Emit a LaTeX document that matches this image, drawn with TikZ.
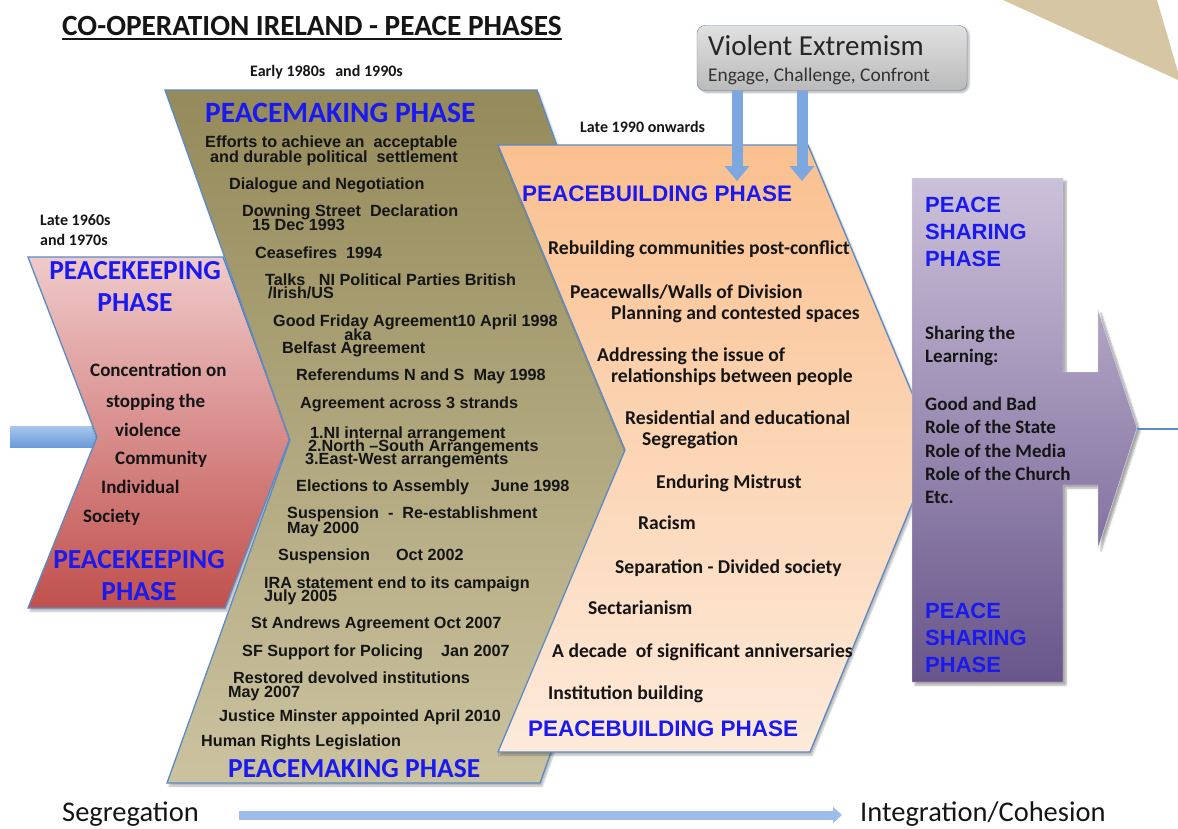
\documentclass[tikz,border=0pt]{standalone}
\usepackage{fontspec}
\setmainfont{Carlito}
\newfontfamily\arialfont{Liberation Sans}
\usepackage{tikz}
\usetikzlibrary{positioning,arrows.meta,shadows.blur}
\definecolor{phaseblue}{HTML}{1A1AF0}
\definecolor{edgeblue}{HTML}{5B8BC6}
\definecolor{inkdark}{HTML}{151515}
\definecolor{kptop}{HTML}{EFCACA}
\definecolor{kpbot}{HTML}{C0504D}
\definecolor{pmtop}{HTML}{948A5A}
\definecolor{pmbot}{HTML}{CBC3A0}
\definecolor{pbtop}{HTML}{FAC08F}
\definecolor{pbbot}{HTML}{FDEADA}
\definecolor{pstop}{HTML}{CCC1DA}
\definecolor{psbot}{HTML}{68558A}
\definecolor{flowlight}{HTML}{A9C6EE}
\definecolor{flowdark}{HTML}{6A9BD8}
\definecolor{sand}{HTML}{D6C6A3}

\begin{document}
\begin{tikzpicture}[
      x=1pt,y=-1pt,
      phase/.style={draw=edgeblue,line width=1.3pt,blur shadow={shadow blur steps=6,shadow xshift=2pt,shadow yshift=-3pt,shadow opacity=30}},
      title/.style={font=\bfseries\fontsize{29.3}{29.3}\selectfont,text=inkdark,anchor=west,inner sep=0pt,text height=18.9pt,text depth=0pt},
      datelbl/.style={font=\bfseries\fontsize{16}{16}\selectfont,text=inkdark,anchor=west,inner sep=0pt,text height=10.3pt,text depth=0pt},
      kphead/.style={font=\bfseries\fontsize{27.5}{27.5}\selectfont,text=phaseblue,inner sep=0pt,text height=17.7pt,text depth=0pt},
      kpline/.style={font=\bfseries\fontsize{19}{19}\selectfont,text=inkdark,anchor=west,inner sep=0pt,text height=12.2pt,text depth=0pt},
      pmhead/.style={font=\bfseries\fontsize{29.5}{29.5}\selectfont,text=phaseblue,anchor=west,inner sep=0pt,text height=19pt,text depth=0pt},
      pmline/.style={font=\arialfont\bfseries\fontsize{16.2}{16.2}\selectfont,text=inkdark,anchor=west,inner sep=0pt,text height=11.6pt,text depth=0pt},
      pbhead/.style={font=\arialfont\bfseries\fontsize{22.5}{22.5}\selectfont,text=phaseblue,anchor=west,inner sep=0pt,text height=16.1pt,text depth=0pt},
      pbline/.style={font=\bfseries\fontsize{19.6}{19.6}\selectfont,text=inkdark,anchor=west,inner sep=0pt,text height=12.6pt,text depth=0pt},
      pshead/.style={font=\arialfont\bfseries\fontsize{22}{22}\selectfont,text=phaseblue,anchor=west,inner sep=0pt,text height=15.8pt,text depth=0pt},
      psline/.style={font=\bfseries\fontsize{19}{19}\selectfont,text=inkdark,anchor=west,inner sep=0pt,text height=12.2pt,text depth=0pt},
      scalelbl/.style={font=\fontsize{28.5}{28.5}\selectfont,text=inkdark,anchor=west,inner sep=0pt,text height=18.4pt,text depth=0pt},
      vearrow/.style={line width=11pt,draw=flowdark!70!flowlight,-{Triangle[width=24pt,length=15pt]}},
      scalearrow/.style={line width=9pt,draw=flowlight!80!flowdark,-{Triangle[width=16pt,length=9pt]}}
    ]
    \useasboundingbox (0,0) rectangle (1178,828);

    % corner wedge and the bar running in from the left
    \fill[sand] (1003,0) -- (1157,0) -- (1178,72) -- (1178,80) -- cycle;
    \shade[top color=flowlight,bottom color=flowdark] (10,426) rectangle (100,447);

    % phase chevrons
    \path[phase,top color=kptop,bottom color=kpbot]
      (28,257) -- (223,257) -- (290,438) -- (225,608) -- (28,608) -- (97,437) -- cycle;
    \path[phase,top color=pmtop,bottom color=pmbot]
      (165,90) -- (537,90) -- (662,440) -- (540,783) -- (167,783) -- (290,440) -- cycle;
    \path[phase,top color=pbtop,bottom color=pbbot]
      (498,145) -- (808,145) -- (935,448) -- (810,752) -- (498,752) -- (625,450) -- cycle;
    \path[top color=pstop,bottom color=psbot,draw=pstop!60!white,blur shadow={shadow blur steps=6,shadow xshift=3pt,shadow yshift=-3pt,shadow opacity=35}]
      (912,178) -- (1063,178) -- (1063,372) -- (1098,372) -- (1098,310) -- (1137,428)
      -- (1098,548) -- (1098,485) -- (1063,485) -- (1063,682) -- (912,682) -- cycle;
    \coordinate (pstip) at (1137,429);
    \coordinate (rimright) at (1178,429);
    \draw[edgeblue,line width=2pt] (pstip) -- (rimright);

    % heading and dates
    \node[title] (head) at (62,26) {CO-OPERATION IRELAND - PEACE PHASES};
    \draw[inkdark,line width=1.8pt] ([yshift=-13pt]head.west) -- ([yshift=-13pt]head.east);
    \node[datelbl] (d60) at (40,220) {Late 1960s};
    \node[datelbl] (d70) at (40,240) {and 1970s};
    \node[datelbl] (d80) at (250,71) {Early 1980s\hspace{10pt}and 1990s};
    \node[datelbl] (d90) at (580,127) {Late 1990 onwards};

    % violent extremism
    \node[draw=edgeblue!70!gray,rounded corners=8pt,top color=black!12,bottom color=black!27,minimum width=270pt,minimum height=65pt,
          blur shadow={shadow blur steps=5,shadow xshift=2pt,shadow yshift=-2pt,shadow opacity=30}] (ve) at (832,58) {};
    \node[font=\fontsize{29}{29}\selectfont,text=black!85,anchor=west,inner sep=0pt,text height=18.7pt,text depth=0pt] (vetitle) at (708,46) {Violent Extremism};
    \node[font=\fontsize{19.4}{19.4}\selectfont,text=black!80,anchor=west,inner sep=0pt,text height=12.5pt,text depth=0pt] (vesub) at (708,75) {Engage, Challenge, Confront};
    \coordinate (pbin1) at (737,181);
    \coordinate (pbin2) at (802,181);
    \draw[vearrow] (ve.south -| pbin1) -- (pbin1);
    \draw[vearrow] (ve.south -| pbin2) -- (pbin2);

    % peacekeeping
    \node[kphead] (kp1) at (135,271) {PEACEKEEPING};
    \node[kphead,below=14pt of kp1] (kp2) {PHASE};
    \node[kpline] (kpa) at (90,370) {Concentration on};
    \node[kpline] (kpb) at (106,401) {stopping the};
    \node[kpline] (kpc) at (115,430) {violence};
    \node[kpline] (kpd) at (115,458) {Community};
    \node[kpline] (kpe) at (101,487) {Individual};
    \node[kpline] (kpf) at (83,516) {Society};
    \node[kphead] (kp3) at (139,560) {PEACEKEEPING};
    \node[kphead,below=14pt of kp3] (kp4) {PHASE};

    % peacemaking
    \node[pmhead] (pm0) at (205,113) {PEACEMAKING PHASE};
    \node[pmline] (pma) at (205,142) {Efforts to achieve an\ \ acceptable};
    \node[pmline] (pmb) at (210,157) {and durable political\ \ settlement};
    \node[pmline] (pmc) at (229,184) {Dialogue and Negotiation};
    \node[pmline] (pmd) at (242,211) {Downing Street\ \ Declaration};
    \node[pmline] (pmd2) at (252,225) {15 Dec 1993};
    \node[pmline] (pme) at (255,253) {Ceasefires\ \ 1994};
    \node[pmline] (pmf) at (265,280) {Talks\ \ \ NI Political Parties British};
    \node[pmline] (pmf2) at (268,293) {/Irish/US};
    \node[pmline] (pmg) at (273,321) {Good Friday Agreement10 April 1998};
    \node[pmline,anchor=center] (pmg2) at (358,335) {aka};
    \node[pmline] (pmg3) at (282,348) {Belfast Agreement};
    \node[pmline] (pmh) at (296,375) {Referendums N and S\ \ May 1998};
    \node[pmline] (pmi) at (300,403) {Agreement across 3 strands};
    \node[pmline] (pmi1) at (310,433) {1.NI internal arrangement};
    \node[pmline] (pmi2) at (308,446) {2.North –South Arrangements};
    \node[pmline] (pmi3) at (305,459) {3.East-West arrangements};
    \node[pmline] (pmj) at (296,486) {Elections to Assembly\hspace{22pt}June 1998};
    \node[pmline] (pmk) at (287,513) {Suspension\ \ -\ \ Re-establishment};
    \node[pmline] (pmk2) at (287,528) {May 2000};
    \node[pmline] (pml) at (278,555) {Suspension\hspace{26pt}Oct 2002};
    \node[pmline] (pmm) at (264,583) {IRA statement end to its campaign};
    \node[pmline] (pmm2) at (264,596) {July 2005};
    \node[pmline] (pmn) at (251,623) {St Andrews Agreement Oct 2007};
    \node[pmline] (pmo) at (242,651) {SF Support for Policing\hspace{18pt}Jan 2007};
    \node[pmline] (pmp) at (233,678) {Restored devolved institutions};
    \node[pmline] (pmp2) at (228,692) {May 2007};
    \node[pmline] (pmq) at (219,716) {Justice Minster appointed April 2010};
    \node[pmline] (pmr) at (201,741) {Human Rights Legislation};
    \node[pmhead,font=\bfseries\fontsize{27.5}{27.5}\selectfont] (pm9) at (228,768) {PEACEMAKING PHASE};

    % peacebuilding
    \node[pbhead] (pb0) at (522,193) {PEACEBUILDING PHASE};
    \node[pbline] (pba) at (548,248) {Rebuilding communities post-conflict};
    \node[pbline] (pbb) at (570,292) {Peacewalls/Walls of Division};
    \node[pbline] (pbb2) at (611,313) {Planning and contested spaces};
    \node[pbline] (pbc) at (597,355) {Addressing the issue of};
    \node[pbline] (pbc2) at (611,376) {relationships between people};
    \node[pbline] (pbd) at (625,418) {Residential and educational};
    \node[pbline] (pbd2) at (642,439) {Segregation};
    \node[pbline] (pbe) at (656,482) {Enduring Mistrust};
    \node[pbline] (pbf) at (638,523) {Racism};
    \node[pbline] (pbg) at (615,567) {Separation - Divided society};
    \node[pbline] (pbh) at (588,608) {Sectarianism};
    \node[pbline] (pbi) at (552,651) {A decade\ \ of significant anniversaries};
    \node[pbline] (pbj) at (548,693) {Institution building};
    \node[pbhead] (pb9) at (528,728) {PEACEBUILDING PHASE};

    % peace sharing
    \node[pshead] (ps1) at (925,205) {PEACE};
    \node[pshead] (ps2) at (925,232) {SHARING};
    \node[pshead] (ps3) at (925,259) {PHASE};
    \node[psline] (psa) at (925,333) {Sharing the};
    \node[psline] (psb) at (925,356) {Learning:};
    \node[psline] (psc) at (925,404) {Good and Bad};
    \node[psline] (psd) at (925,427) {Role of the State};
    \node[psline] (pse) at (925,451) {Role of the Media};
    \node[psline] (psf) at (925,474) {Role of the Church};
    \node[psline] (psg) at (925,497) {Etc.};
    \node[pshead] (ps4) at (925,611) {PEACE};
    \node[pshead] (ps5) at (925,638) {SHARING};
    \node[pshead] (ps6) at (925,665) {PHASE};

    % scale along the bottom
    \node[scalelbl] (seg) at (62,812) {Segregation};
    \node[scalelbl] (integ) at (860,812) {Integration/Cohesion};
    \draw[scalearrow] ([xshift=40pt,yshift=-3pt]seg.east) -- ([xshift=-18pt,yshift=-3pt]integ.west);
  \end{tikzpicture}
\end{document}
